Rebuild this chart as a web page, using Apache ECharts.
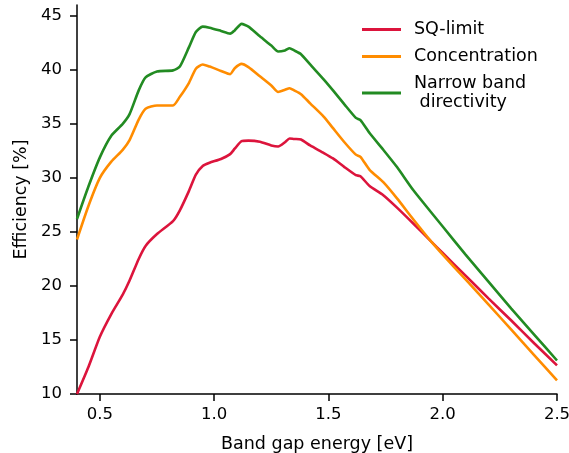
<!DOCTYPE html>
<html>
<head>
<meta charset="utf-8">
<script src="https://cdn.jsdelivr.net/npm/echarts@6/dist/echarts.min.js"></script>
<style>
  html, body { margin: 0; padding: 0; background: #fff; }
  #chart { width: 569px; height: 453px; }
</style>
</head>
<body>
<div id="chart"></div>
<script>
// Band gap energies (eV) at which the efficiency limits are sampled
const energy = [0.40, 0.45, 0.50, 0.55, 0.60, 0.63, 0.67, 0.70, 0.75, 0.82, 0.85, 0.89, 0.92, 0.95, 0.98,
  1.03, 1.07, 1.09, 1.12, 1.15, 1.20, 1.25, 1.28, 1.31, 1.33, 1.35, 1.38, 1.42, 1.48, 1.52, 1.57,
  1.62, 1.64, 1.68, 1.74, 1.80, 1.87, 1.95, 2.00, 2.10, 2.20, 2.30, 2.40, 2.50];

// Efficiency [%] for each case
const sqLimit = [10.0, 12.5, 15.3, 17.4, 19.2, 20.5, 22.5, 23.7, 24.8, 26.0, 27.0, 28.8, 30.3, 31.1, 31.4,
  31.75, 32.2, 32.7, 33.4, 33.45, 33.35, 33.0, 32.9, 33.3, 33.65, 33.6, 33.55, 33.0, 32.3, 31.8, 31.0,
  30.25, 30.15, 29.25, 28.4, 27.25, 25.8, 24.1, 23.05, 20.95, 18.85, 16.8, 14.7, 12.65];
const concentration = [24.3, 27.4, 30.0, 31.5, 32.6, 33.5, 35.4, 36.4, 36.7, 36.7, 37.5, 38.8, 40.1, 40.5, 40.3,
  39.9, 39.6, 40.15, 40.55, 40.25, 39.4, 38.55, 37.95, 38.15, 38.3, 38.1, 37.75, 36.9, 35.65, 34.6, 33.3,
  32.15, 31.95, 30.75, 29.6, 28.1, 26.2, 24.1, 22.9, 20.6, 18.3, 15.95, 13.6, 11.25];
const narrowBand = [26.2, 29.2, 31.9, 33.9, 35.0, 35.9, 38.1, 39.3, 39.85, 39.95, 40.3, 42.1, 43.5, 44.0, 43.9,
  43.6, 43.35, 43.65, 44.25, 44.0, 43.1, 42.25, 41.7, 41.8, 42.0, 41.8, 41.45, 40.5, 39.1, 38.1, 36.8,
  35.55, 35.35, 34.15, 32.6, 31.0, 28.9, 26.8, 25.5, 22.9, 20.4, 17.9, 15.5, 13.1];

const seriesNames = ['SQ-limit', 'Concentration', 'Narrow band\n directivity'];
const seriesColors = ['#dc143c', '#ff8c00', '#228b22'];

// Axis ticks
const xTicks = [0.5, 1.0, 1.5, 2.0, 2.5];
const xTickLabels = ['0.5', '1.0', '1.5', '2.0', '2.5'];
const yTicks = [10, 15, 20, 25, 30, 35, 40, 45];
const yTickLabels = ['10', '15', '20', '25', '30', '35', '40', '45'];

const FONT = 'DejaVu Sans';
const pairs = ys => energy.map((x, i) => [x, ys[i]]);
const allValues = [sqLimit, concentration, narrowBand];

const chart = echarts.init(document.getElementById('chart'), null, { renderer: 'canvas' });

const axisCommon = {
  axisLine: { show: true, onZero: false, lineStyle: { color: '#000', width: 1.5 } },
  axisTick: { show: true, length: 7, lineStyle: { color: '#000', width: 1.5 } },
  splitLine: { show: false },
  nameLocation: 'middle',
  nameTextStyle: { fontFamily: FONT, fontSize: 17.5, color: '#000' }
};

chart.setOption({
  animation: false,
  backgroundColor: '#fff',
  grid: { left: 77, right: 12, top: 5, bottom: 59, containLabel: false, outerBoundsMode: 'none' },
  xAxis: Object.assign({}, axisCommon, {
    type: 'value',
    min: 0.4,
    max: 2.5,
    name: 'Band gap energy [eV]',
    nameGap: 41,
    axisTick: Object.assign({}, axisCommon.axisTick, { customValues: xTicks }),
    axisLabel: {
      customValues: xTicks,
      margin: 12,
      fontFamily: FONT, fontSize: 16.5, color: '#000',
      formatter: v => xTickLabels[xTicks.findIndex(t => Math.abs(t - v) < 1e-9)] ?? ''
    }
  }),
  yAxis: Object.assign({}, axisCommon, {
    type: 'value',
    min: 10,
    max: 46,
    name: 'Efficiency [%]',
    nameGap: 47,
    axisTick: Object.assign({}, axisCommon.axisTick, { customValues: yTicks }),
    axisLabel: {
      customValues: yTicks,
      margin: 15,
      fontFamily: FONT, fontSize: 16.5, color: '#000',
      formatter: v => yTickLabels[yTicks.findIndex(t => Math.abs(t - v) < 1e-9)] ?? ''
    }
  }),
  legend: {
    orient: 'vertical',
    left: 357,
    top: 15,
    itemWidth: 39,
    itemHeight: 3,
    itemGap: 8,
    icon: 'rect',
    textStyle: { fontFamily: FONT, fontSize: 17.5, color: '#000', lineHeight: 19, padding: [0, 0, 0, 8] },
    data: seriesNames.map(n => ({ name: n, icon: 'rect' }))
  },
  series: seriesNames.map((name, i) => ({
    name,
    type: 'line',
    data: pairs(allValues[i]),
    showSymbol: false,
    symbol: 'none',
    smooth: 0.2,
    color: seriesColors[i],
    lineStyle: { color: seriesColors[i], width: 2.6 }
  }))
});
</script>
</body>
</html>
